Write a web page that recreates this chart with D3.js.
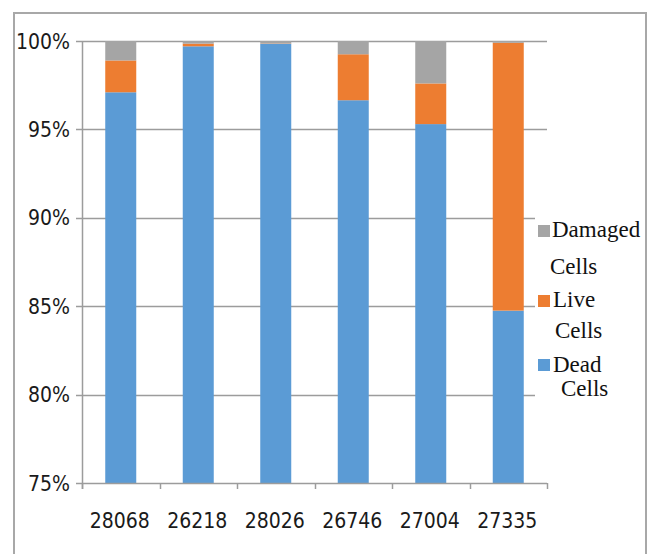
<!DOCTYPE html>
<html>
<head>
<meta charset="utf-8">
<script src="https://cdn.jsdelivr.net/npm/d3@7/dist/d3.min.js"></script>
<style>
  html, body { margin: 0; padding: 0; background: #fff; }
  svg { display: block; }
  .tick-label { font-family: "DejaVu Sans Condensed", "DejaVu Sans", sans-serif; font-size: 21px; fill: #1a1a1a; }
  .legend-label { font-family: "Liberation Serif", "Times New Roman", serif; font-size: 23px; fill: #111; }
</style>
</head>
<body>
<svg id="chart" width="650" height="554"></svg>
<script>
// Sample IDs and the share of each cell state (percent of all cells)
const categories = ["28068", "26218", "28026", "26746", "27004", "27335"];
const deadCells    = [97.1, 99.7, 99.85, 96.65, 95.3, 84.75];
const liveCells    = [1.8, 0.15, 0.02, 2.6, 2.3, 15.15];
const damagedCells = [1.1, 0.15, 0.13, 0.75, 2.4, 0.1];
const yTicks = [75, 80, 85, 90, 95, 100];
const seriesNames = ["Dead Cells", "Live Cells", "Damaged Cells"];
const seriesColors = ["#5b9bd5", "#ed7d31", "#a5a5a5"];

const rows = categories.map((c, i) => ({
  id: c,
  "Dead Cells": deadCells[i],
  "Live Cells": liveCells[i],
  "Damaged Cells": damagedCells[i]
}));

const svg = d3.select("#chart");
const plot = { left: 82, right: 547, top: 41, bottom: 483 };

const x = d3.scaleBand()
  .domain(categories)
  .range([plot.left, plot.right])
  .paddingInner(0.6)
  .paddingOuter(0.3);

const y = d3.scaleLinear()
  .domain([75, 100])
  .range([plot.bottom, plot.top]);

// outer frame
svg.append("path")
  .attr("d", "M14,560 V13 H646 V560")
  .attr("stroke", "#a8a8a8").attr("stroke-width", 2).attr("fill", "none");

// horizontal gridlines with left tick marks
const gridColor = "#9c9c9c";
svg.append("g")
  .selectAll("line")
  .data(yTicks.filter(t => t > 75))
  .join("line")
  .attr("x1", plot.left - 6)
  .attr("x2", plot.right)
  .attr("y1", d => Math.round(y(d)) + 0.5)
  .attr("y2", d => Math.round(y(d)) + 0.5)
  .attr("stroke", gridColor)
  .attr("stroke-width", 1.5);

// stacked bars, clipped to the 75%–100% window
const layers = d3.stack().keys(seriesNames)(rows);

svg.append("clipPath").attr("id", "plot-clip")
  .append("rect")
  .attr("x", plot.left).attr("y", plot.top)
  .attr("width", plot.right - plot.left)
  .attr("height", plot.bottom - plot.top);

svg.append("g")
  .attr("clip-path", "url(#plot-clip)")
  .selectAll("g")
  .data(layers)
  .join("g")
  .attr("fill", (d, i) => seriesColors[i])
  .selectAll("rect")
  .data(d => d)
  .join("rect")
  .attr("x", d => x(d.data.id))
  .attr("width", x.bandwidth())
  .attr("y", d => y(Math.min(d[1], 100)))
  .attr("height", d => {
    const lo = Math.max(d[0], 75);
    const hi = Math.min(d[1], 100);
    return Math.max(0, y(lo) - y(hi));
  });

// axis lines
svg.append("line")
  .attr("x1", plot.left + 0.5).attr("x2", plot.left + 0.5)
  .attr("y1", plot.top).attr("y2", plot.bottom + 6)
  .attr("stroke", gridColor).attr("stroke-width", 1.5);
svg.append("line")
  .attr("x1", plot.left - 6).attr("x2", plot.right)
  .attr("y1", plot.bottom + 0.5).attr("y2", plot.bottom + 0.5)
  .attr("stroke", gridColor).attr("stroke-width", 1.5);

// x tick marks on category boundaries
const boundaries = d3.range(categories.length + 1)
  .map(i => plot.left + i * (plot.right - plot.left) / categories.length);
svg.append("g")
  .selectAll("line")
  .data(boundaries)
  .join("line")
  .attr("x1", d => Math.round(d) + 0.5).attr("x2", d => Math.round(d) + 0.5)
  .attr("y1", plot.bottom).attr("y2", plot.bottom + 6)
  .attr("stroke", gridColor).attr("stroke-width", 1.5);

// y tick labels
svg.append("g")
  .selectAll("text")
  .data(yTicks)
  .join("text")
  .attr("class", "tick-label")
  .attr("x", 70)
  .attr("y", d => y(d))
  .attr("dy", "0.36em")
  .attr("text-anchor", "end")
  .text(d => d + "%");

// x tick labels
svg.append("g")
  .selectAll("text")
  .data(categories)
  .join("text")
  .attr("class", "tick-label")
  .attr("x", d => x(d) + x.bandwidth() / 2 - 1)
  .attr("y", 528)
  .attr("text-anchor", "middle")
  .text(d => d);

// legend, on a white box over the gridlines
const legend = svg.append("g");
legend.append("rect")
  .attr("x", 535).attr("y", 205)
  .attr("width", 108).attr("height", 200)
  .attr("fill", "#fff");

const legendItems = [
  { color: seriesColors[2], sq: 225, lines: [["Damaged", 552, 237], ["Cells", 550, 274]] },
  { color: seriesColors[1], sq: 295, lines: [["Live", 553, 307], ["Cells", 555, 338]] },
  { color: seriesColors[0], sq: 359, lines: [["Dead", 553, 372], ["Cells", 561, 396]] }
];

const items = legend.selectAll("g.item")
  .data(legendItems)
  .join("g")
  .attr("class", "item");

items.append("rect")
  .attr("x", 538)
  .attr("y", d => d.sq)
  .attr("width", 12)
  .attr("height", 12)
  .attr("fill", d => d.color);

items.selectAll("text")
  .data(d => d.lines)
  .join("text")
  .attr("class", "legend-label")
  .attr("x", d => d[1])
  .attr("y", d => d[2])
  .text(d => d[0]);
</script>
</body>
</html>
